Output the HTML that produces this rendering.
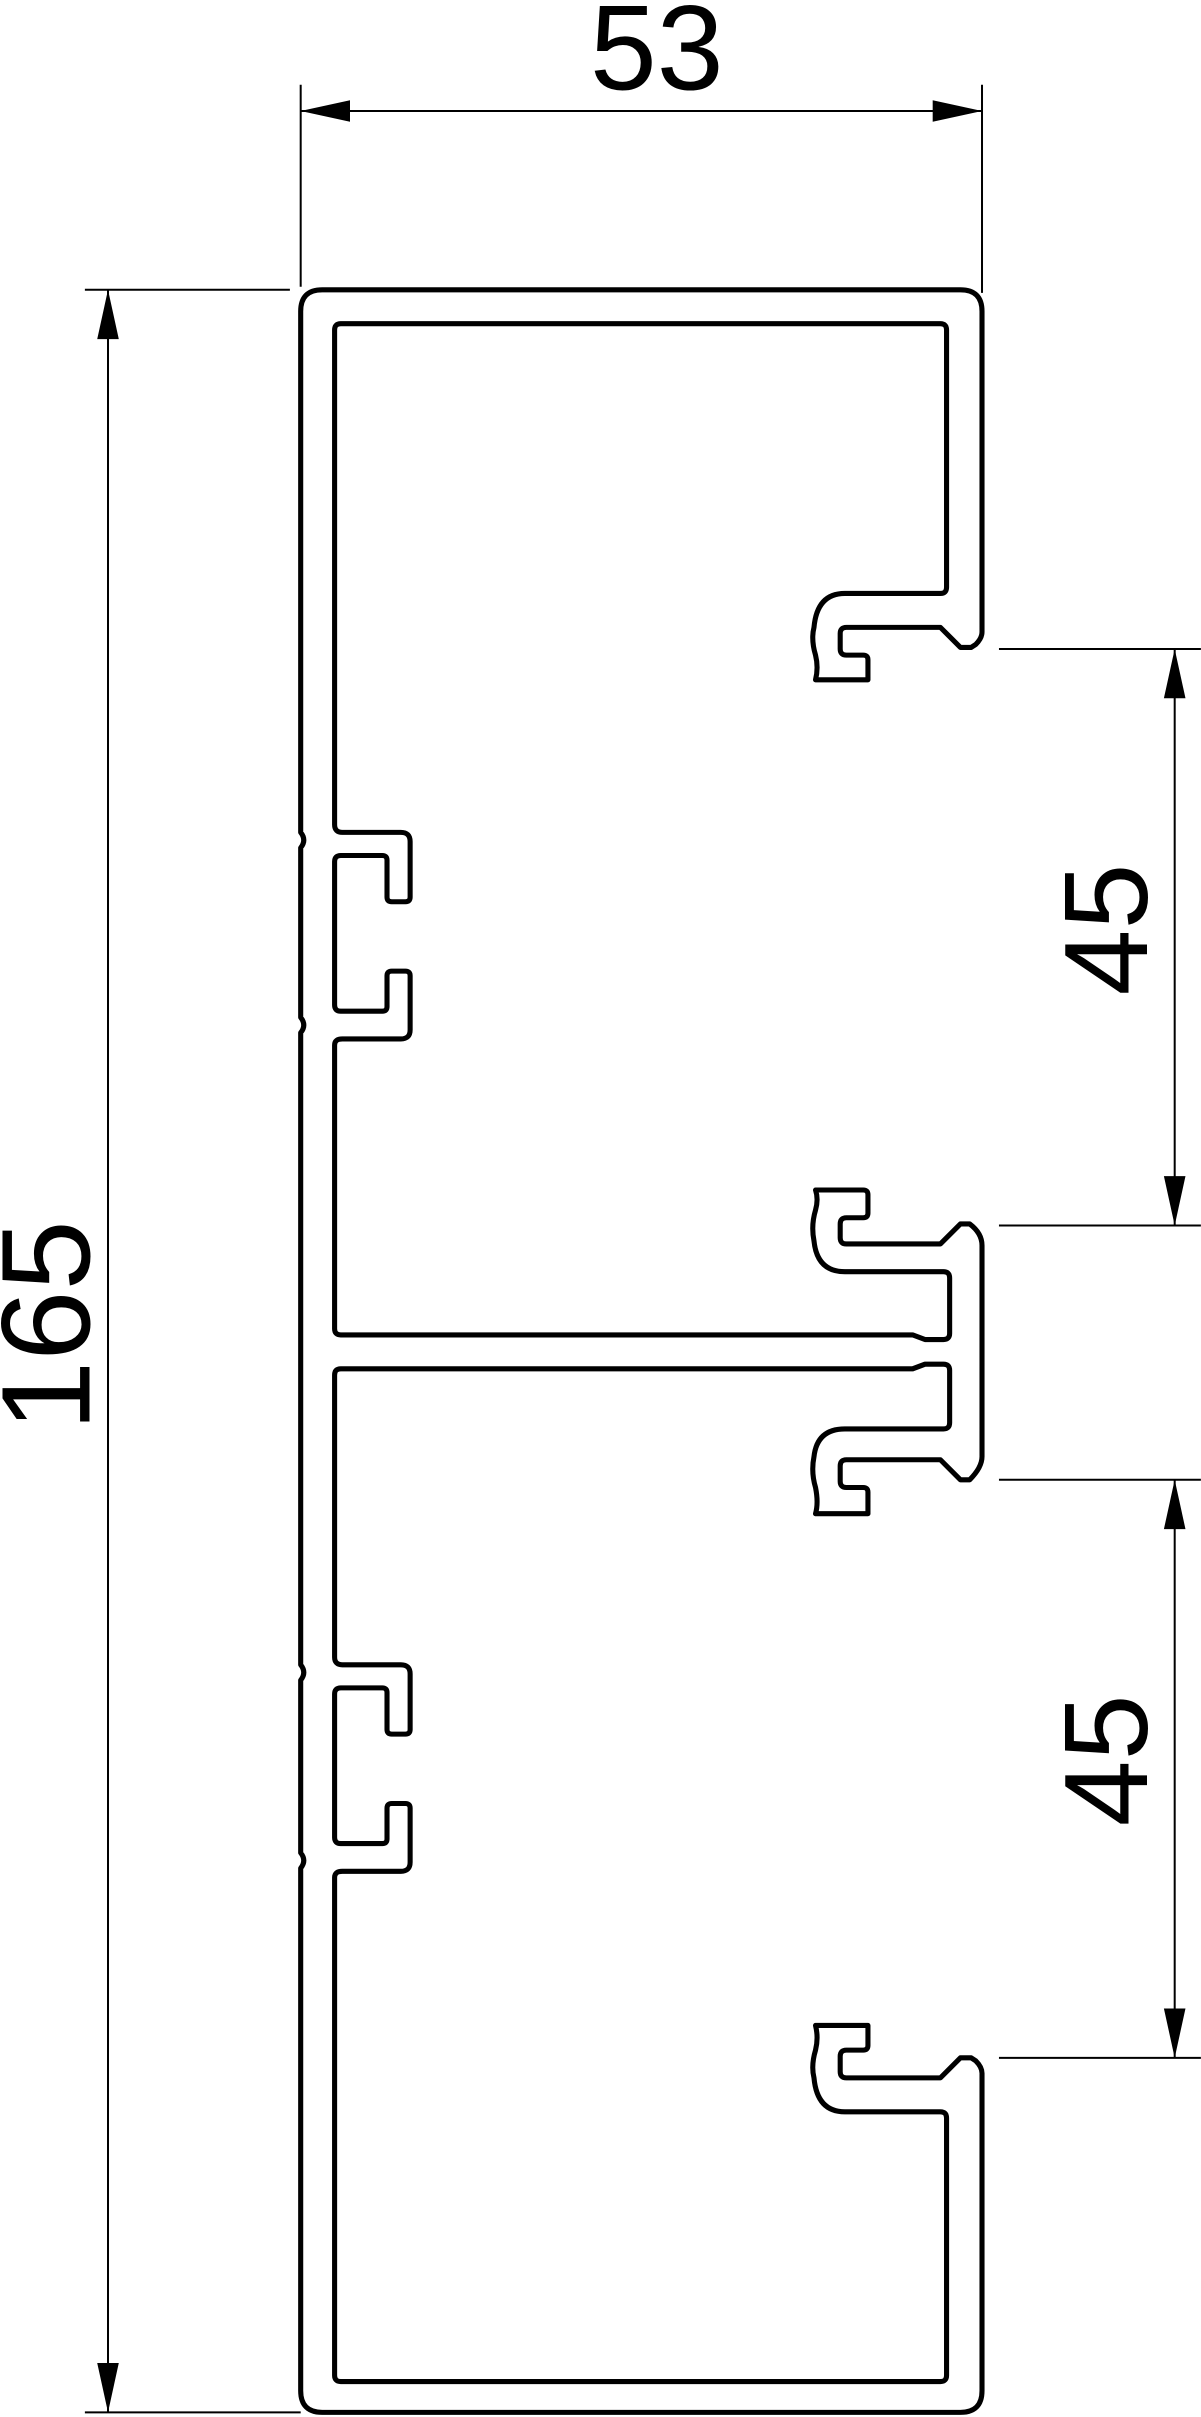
<!DOCTYPE html>
<html><head><meta charset="utf-8"><style>
html,body{margin:0;padding:0;background:#fff;}
svg{display:block;}
text{font-family:"Liberation Sans",sans-serif;fill:#000;}
</style></head><body>
<svg width="1201" height="2417" viewBox="0 0 779 1568" xmlns="http://www.w3.org/2000/svg">
<g fill="none" stroke="#000" stroke-width="3.3" stroke-linejoin="round">
<path d="M195,202 V540 Q199,545 195,550 V660 Q199,665 195,670 V1080 Q199,1085 195,1090 V1202 Q199,1207 195,1212 V1551 Q195,1565 209,1565 H623 Q637,1565 637,1551 V1345 Q637,1341 633,1337 L630,1335 H623 L610,1348 H549 Q545,1348 545,1344 V1334 Q545,1330 549,1330 H560 Q563,1330 563,1327 V1314 H529 Q531,1322 529,1330 Q526,1340 528,1348 Q530,1370 548,1370 H610 Q614,1370 614,1374 V1541 Q614,1545 610,1545 H221 Q217,1545 217,1541 V1218 Q217,1214 222,1214 H260 Q266,1214 266,1208 V1173 Q266,1170 263,1170 H254 Q251,1170 251,1173 V1193 Q251,1196 248,1196 H221 Q217,1196 217,1192 V1099 Q217,1095 221,1095 H248 Q251,1095 251,1098 V1122 Q251,1125 254,1125 H263 Q266,1125 266,1122 V1086 Q266,1080 260,1080 H222 Q217,1080 217,1075 V892 Q217,888 221,888 H592 L600,885 H612 Q616,885 616,889 V923 Q616,927 612,927 H548 Q530,927 528,945 Q526,955 529,965 Q531,975 529,982 H563 V968 Q563,965 560,965 H549 Q545,965 545,961 V951 Q545,947 549,947 H610 L623,960 H629 Q637,952 637,945 V808 Q637,800 629,794 H623 L610,807 H549 Q545,807 545,803 V794 Q545,790 549,790 H560 Q563,790 563,787 V775 Q563,772 560,772 H529 Q531,778 529,785 Q526,795 528,805 Q530,825 548,825 H612 Q616,825 616,829 V865 Q616,869 612,869 H600 L592,866 H221 Q217,866 217,862 V678 Q217,674 222,674 H260 Q266,674 266,668 V633 Q266,630 263,630 H254 Q251,630 251,633 V653 Q251,656 248,656 H221 Q217,656 217,652 V559 Q217,555 221,555 H248 Q251,555 251,558 V582 Q251,585 254,585 H263 Q266,585 266,582 V546 Q266,540 260,540 H222 Q217,540 217,535 V214 Q217,210 221,210 H610 Q614,210 614,214 V381 Q614,385 610,385 H548 Q530,385 528,407 Q526,415 529,425 Q531,433 529,441 H563 V428 Q563,425 560,425 H549 Q545,425 545,421 V411 Q545,407 549,407 H610 L623,420 H630 L633,418 Q637,414 637,410 V202 Q637,188 623,188 H209 Q195,188 195,202 Z"/>
</g>
<g stroke="#000" stroke-width="1.3" fill="none">
<line x1="195" y1="55" x2="195" y2="186"/>
<line x1="637" y1="55" x2="637" y2="190"/>
<line x1="195" y1="72" x2="637" y2="72"/>
<line x1="55" y1="188" x2="188" y2="188"/>
<line x1="55" y1="1565" x2="195" y2="1565"/>
<line x1="70" y1="188" x2="70" y2="1565"/>
<line x1="648" y1="421" x2="779" y2="421"/>
<line x1="648" y1="795" x2="779" y2="795"/>
<line x1="648" y1="960" x2="779" y2="960"/>
<line x1="648" y1="1335" x2="779" y2="1335"/>
<line x1="762" y1="421" x2="762" y2="795"/>
<line x1="762" y1="960" x2="762" y2="1335"/>
</g>
<g fill="#000">
<polygon points="195,72 227,65 227,79"/>
<polygon points="637,72 605,65 605,79"/>
<polygon points="70,188 63,220 77,220"/>
<polygon points="70,1565 63,1533 77,1533"/>
<polygon points="762,421 755,453 769,453"/>
<polygon points="762,795 755,763 769,763"/>
<polygon points="762,960 755,992 769,992"/>
<polygon points="762,1335 755,1303 769,1303"/>
</g>
<text x="426" y="58" font-size="78" text-anchor="middle">53</text>
<text transform="translate(58,860) rotate(-90)" font-size="82" text-anchor="middle">165</text>
<text transform="translate(744,603) rotate(-90)" font-size="77" text-anchor="middle">45</text>
<text transform="translate(744,1142) rotate(-90)" font-size="77" text-anchor="middle">45</text>
</svg>
</body></html>
